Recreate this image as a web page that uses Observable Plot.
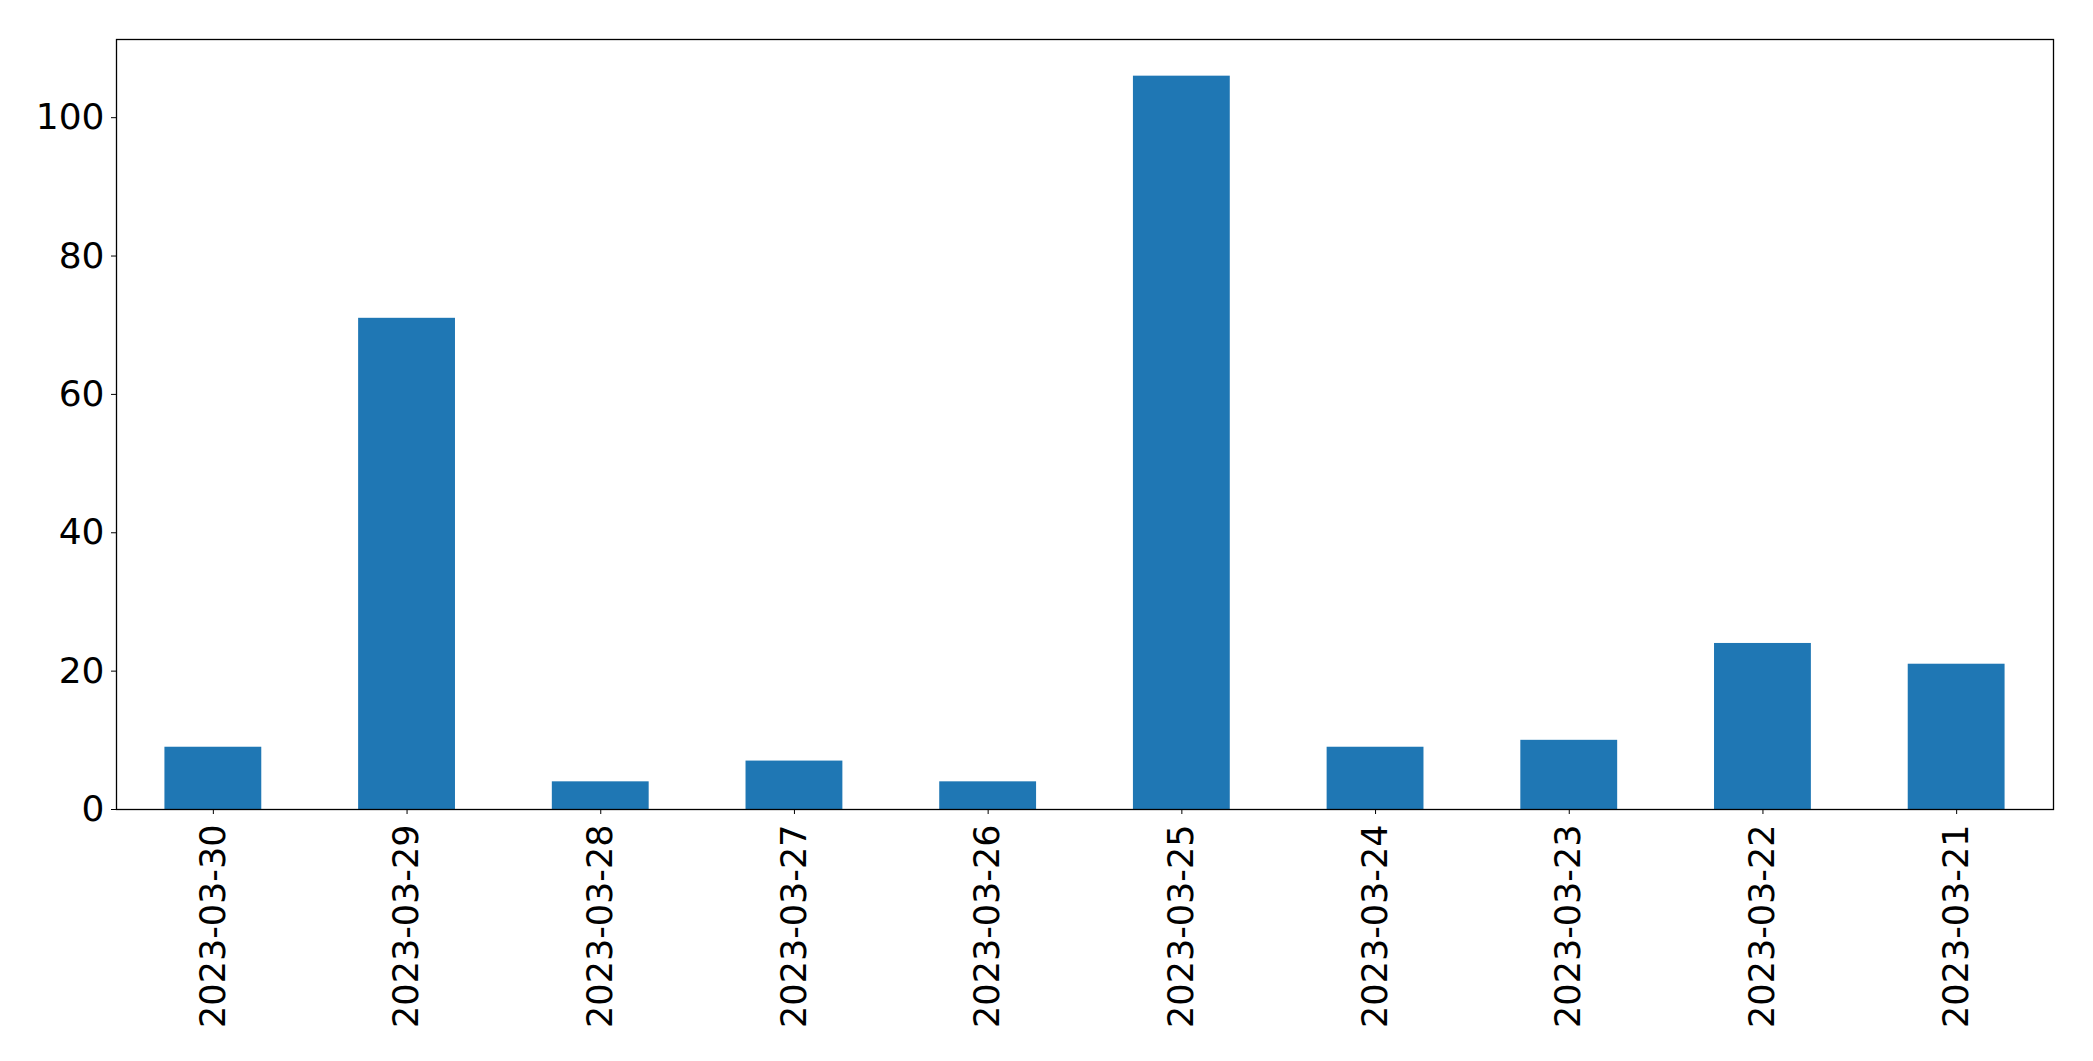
<!DOCTYPE html>
<html>
<head>
<meta charset="utf-8">
<script src="https://cdn.jsdelivr.net/npm/d3@7"></script>
<script src="https://cdn.jsdelivr.net/npm/@observablehq/plot@0.6"></script>
<style>
  html, body { margin: 0; padding: 0; background: #fff; }
  #chart svg { display: block; }
</style>
</head>
<body>
<div id="chart"></div>
<script>
const dates = ["2023-03-30", "2023-03-29", "2023-03-28", "2023-03-27", "2023-03-26",
               "2023-03-25", "2023-03-24", "2023-03-23", "2023-03-22", "2023-03-21"];
const counts = [9, 71, 4, 7, 4, 106, 9, 10, 24, 21];
const yTicks = [0, 20, 40, 60, 80, 100];

const data = dates.map((d, i) => ({date: d, count: counts[i]}));
const yMax = d3.max(counts) * 1.05;

const chart = Plot.plot({
  width: 2093,
  height: 1061,
  marginLeft: 116,
  marginRight: 40,
  marginTop: 39,
  marginBottom: 252,
  style: {fontFamily: "DejaVu Sans", fontSize: "35px", color: "#000", background: "#fff"},
  x: {type: "band", domain: dates, paddingInner: 0.5, paddingOuter: 0.25, round: false, label: null},
  y: {domain: [0, yMax], label: null},
  marks: [
    Plot.barY(data, {x: "date", y: "count", fill: "#1f77b4"}),
    Plot.frame({stroke: "#000", strokeWidth: 1.3}),
    Plot.axisY({ticks: yTicks, tickSize: 5, tickPadding: 7, fontSize: 36, label: null, stroke: "#000"}),
    Plot.axisX({tickSize: 5, tickPadding: 10, tickRotate: -90, fontSize: 35, label: null, stroke: "#000"})
  ]
});
document.getElementById("chart").appendChild(chart);
</script>
</body>
</html>
